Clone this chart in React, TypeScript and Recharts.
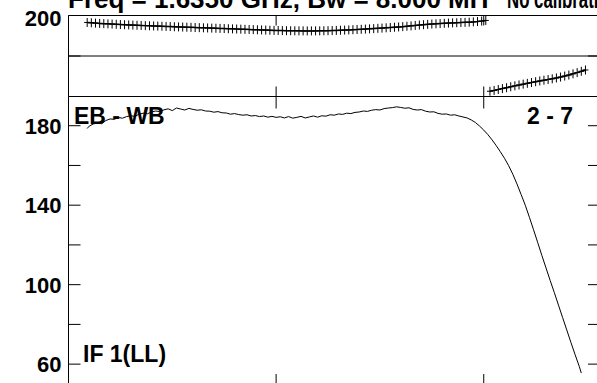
import React from 'react';
import { LineChart, Line, XAxis, YAxis, ReferenceLine } from 'recharts';

// ---------- text ----------
const titleLeft = 'Freq = 1.6350 GHz, Bw = 8.000 MH';
const titleRight = 'No calibration';
const baselineLabel = 'EB - WB';
const pairLabel = '2 - 7';
const polLabel = 'IF 1(LL)';

// ---------- axes ----------
const channelDomain = [0, 256];
const channelTicks = [100, 200];
const phaseDomain = [-200, 200];
const phaseTicks = [-200, 0, 200];
const phaseLabelled = [-200, 200];
const ampDomain = [50, 194.7];
const ampTicks = [60, 80, 100, 120, 140, 160, 180];
const ampLabelled = [60, 100, 140, 180];

// ---------- phase (deg), every 2nd channel ----------
const phaseUpperStart = 9;
const phaseUpper = [
  165.5, 164, 162.5, 161, 159.8, 158.7, 157.6, 156.5, 155.4, 154.4,
  153.5, 152.6, 151.7, 150.8, 150, 149.2, 148.4, 147.6, 146.8, 146,
  145.3, 144.5, 143.7, 143, 142.2, 141.5, 140.7, 140, 139.2, 138.5,
  137.7, 137, 136.2, 135.5, 134.7, 134, 133.2, 132.5, 131.7, 131,
  130.2, 129.5, 128.7, 128, 127.2, 126.5, 126, 125.5, 125, 124.7,
  124.4, 124.2, 124, 123.9, 123.9, 124, 124.2, 124.6, 125.1, 125.7,
  126.4, 127.2, 128, 128.9, 129.8, 130.8, 131.8, 132.9, 134, 135.2,
  136.5, 137.8, 139.2, 140.6, 142, 143.5, 145, 147, 148.8, 150.8,
  152.8, 154.6, 156.2, 157.7, 159, 160.2, 161.4, 162.5, 163.5, 164.4,
  165.3, 166.2, 167.2, 168.5, 170.2, 172.5, 175.5,
];
const phaseLowerStart = 203;
const phaseLower = [
  -174, -170, -165.5, -161, -156.5, -152, -147.5, -143, -139, -135,
  -131, -127, -123, -119.5, -116, -112.5, -108.5, -104, -99, -94,
  -88, -82, -75.5, -69,
];

// ---------- amplitude ----------
const ampChannels = [
  9, 10, 12, 14, 16, 18, 20, 22, 24, 26, 28, 30, 32, 34, 36, 38, 40, 42, 44, 46,
  48, 50, 52, 54, 56, 58, 60, 62, 64, 66, 68, 70, 72, 74, 76, 78, 80, 82, 84, 86,
  88, 90, 92, 94, 96, 98, 100, 102, 104, 106, 108, 110, 112, 114, 116, 118, 120, 122, 124, 126,
  128, 130, 132, 134, 136, 138, 140, 142, 144, 146, 148, 150, 152, 154, 156, 158, 160, 162, 164, 166,
  168, 170, 172, 174, 176, 178, 180, 182, 184, 186, 188, 190, 192, 194, 196, 198, 200, 202, 204, 206,
  208, 210, 212, 214, 216, 218, 220, 222, 224, 226, 228, 230, 232, 234, 236, 238, 240, 242, 244, 246,
  247,
];
const ampValues = [
  178.6, 179.8, 180.9, 181.3, 181.0, 182.6, 183.4, 183.2, 184.1, 183.8, 184.6, 185.0, 184.7, 185.8, 186.3, 186.0, 186.9, 187.4, 187.1, 188.0,
  188.5, 187.6, 188.9, 188.4, 187.9, 188.7, 188.2, 187.8, 188.0, 187.4, 187.3, 186.8, 187.1, 186.5, 186.4, 185.8, 186.1, 185.6, 185.3, 185.5,
  184.9, 185.1, 184.6, 184.9, 184.3, 184.7, 184.2, 184.5, 183.9, 184.6, 183.8, 184.2, 184.7, 183.9, 184.4, 184.9, 184.3, 185.0, 184.8, 185.5,
  185.3, 185.9, 185.7, 186.3, 186.1, 186.7, 186.9, 187.4, 187.2, 187.8, 188.1, 187.9, 188.6, 188.9, 189.1, 189.5, 189.2, 188.8, 189.0, 188.2,
  187.9, 188.1, 187.3, 186.9, 187.0, 186.2, 185.8, 185.9, 185.3, 185.5, 184.9, 184.4, 183.9, 182.9, 181.6, 179.8, 177.8, 175.5, 172.9, 170.0,
  166.9, 163.6, 159.9, 155.6, 150.7, 145.4, 140.0, 133.9, 127.6, 121.2, 114.7, 108.4, 102.1, 96.0, 89.7, 83.4, 77.2, 70.9, 64.8, 58.9,
  55.5,
];

const upperData = phaseUpper.map((v, i) => ({ ch: phaseUpperStart + 2 * i, phase: v }));
const lowerData = phaseLower.map((v, i) => ({ ch: phaseLowerStart + 2 * i, phase: v }));
const ampData = ampChannels.map((c, i) => ({ ch: c, amp: ampValues[i] }));

const FONT = '"Liberation Sans", Arial, Helvetica, sans-serif';
const INK = '#000';
const TICK_MARGIN = 7;
const TICK_LEN = 12;

const makeLeftTick = (labelled: number[], dy: number) => (props: any) => {
  const { x, y, payload } = props;
  const v = payload.value;
  const axisX = x + TICK_MARGIN;
  return (
    <g>
      <line x1={axisX} x2={axisX + TICK_LEN} y1={y} y2={y} stroke={INK} strokeWidth={1} />
      {labelled.includes(v) ? (
        <text x={x} y={y + dy} textAnchor="end" fontFamily={FONT} fontWeight="bold" fontSize={22} fill={INK}>
          {String(v)}
        </text>
      ) : null}
    </g>
  );
};

const plusDot = (props: any) => {
  const { cx, cy, index } = props;
  if (cx == null || cy == null) return <g key={`pd${index}`} />;
  return (
    <g key={`pd${index}`}>
      <line x1={cx} x2={cx} y1={cy - 4.5} y2={cy + 4.5} stroke={INK} strokeWidth={1} />
      <line x1={cx - 3} x2={cx + 3} y1={cy} y2={cy} stroke={INK} strokeWidth={1} />
    </g>
  );
};

const blank = () => '';

export default function App() {
  return (
    <div style={{ position: 'fixed', left: 0, top: 0, width: 597, height: 383, overflow: 'hidden', background: '#fff' }}>
      {/* phase panel */}
      <div style={{ position: 'absolute', left: 0, top: 0 }}>
        <LineChart width={620} height={100} margin={{ top: 15.5, right: 20, bottom: 3.5, left: 0.5 }}>
          <XAxis
            xAxisId="b"
            dataKey="ch"
            type="number"
            domain={channelDomain}
            ticks={channelTicks}
            orientation="bottom"
            mirror
            tickSize={10}
            tickFormatter={blank}
            axisLine={{ stroke: INK }}
            tickLine={{ stroke: INK }}
            allowDataOverflow
          />
          <XAxis
            xAxisId="t"
            dataKey="ch"
            type="number"
            domain={channelDomain}
            ticks={channelTicks}
            orientation="top"
            mirror
            tickSize={10}
            tickFormatter={blank}
            axisLine={{ stroke: INK }}
            tickLine={{ stroke: INK }}
            allowDataOverflow
          />
          <YAxis
            yAxisId="l"
            type="number"
            domain={phaseDomain}
            ticks={phaseTicks}
            width={68}
            tickLine={false}
            tickSize={0}
            tickMargin={TICK_MARGIN}
            axisLine={{ stroke: INK }}
            tick={makeLeftTick(phaseLabelled, 10.5)}
            allowDataOverflow
          />
          <YAxis
            yAxisId="r"
            type="number"
            orientation="right"
            mirror
            domain={phaseDomain}
            ticks={phaseTicks}
            tickSize={12}
            tickFormatter={blank}
            axisLine={{ stroke: INK }}
            tickLine={{ stroke: INK }}
            allowDataOverflow
          />
          <ReferenceLine xAxisId="b" yAxisId="l" y={0} stroke={INK} strokeWidth={1} />
          <Line
            xAxisId="b"
            yAxisId="l"
            data={upperData}
            dataKey="phase"
            stroke={INK}
            strokeWidth={1.5}
            dot={plusDot}
            isAnimationActive={false}
          />
          <Line
            xAxisId="b"
            yAxisId="l"
            data={lowerData}
            dataKey="phase"
            stroke={INK}
            strokeWidth={1.5}
            dot={plusDot}
            isAnimationActive={false}
          />
        </LineChart>
      </div>

      {/* amplitude panel */}
      <div style={{ position: 'absolute', left: 0, top: 80 }}>
        <LineChart width={620} height={320} margin={{ top: 16.5, right: 20, bottom: 16, left: 0.5 }}>
          <XAxis
            xAxisId="b"
            dataKey="ch"
            type="number"
            domain={channelDomain}
            ticks={channelTicks}
            orientation="bottom"
            mirror
            tickSize={10}
            tickFormatter={blank}
            axisLine={{ stroke: INK }}
            tickLine={{ stroke: INK }}
            allowDataOverflow
          />
          <XAxis
            xAxisId="t"
            dataKey="ch"
            type="number"
            domain={channelDomain}
            ticks={channelTicks}
            orientation="top"
            mirror
            tickSize={12}
            tickFormatter={blank}
            axisLine={{ stroke: INK }}
            tickLine={{ stroke: INK }}
            allowDataOverflow
          />
          <YAxis
            yAxisId="l"
            type="number"
            domain={ampDomain}
            ticks={ampTicks}
            width={68}
            tickLine={false}
            tickSize={0}
            tickMargin={TICK_MARGIN}
            axisLine={{ stroke: INK }}
            tick={makeLeftTick(ampLabelled, 8)}
            allowDataOverflow
          />
          <YAxis
            yAxisId="r"
            type="number"
            orientation="right"
            mirror
            domain={ampDomain}
            ticks={ampTicks}
            tickSize={12}
            tickFormatter={blank}
            axisLine={{ stroke: INK }}
            tickLine={{ stroke: INK }}
            allowDataOverflow
          />
          <Line
            xAxisId="b"
            yAxisId="l"
            data={ampData}
            dataKey="amp"
            stroke={INK}
            strokeWidth={1}
            dot={false}
            isAnimationActive={false}
          />
        </LineChart>
      </div>

      {/* annotations */}
      <svg width={597} height={383} style={{ position: 'absolute', left: 0, top: 0, pointerEvents: 'none' }}>
        <g fontFamily={FONT} fontWeight="bold" fontSize={26} fill={INK}>
          <text x={68} y={8}>{titleLeft}</text>
          <text x={507} y={8} textLength={112} lengthAdjust="spacingAndGlyphs">{titleRight}</text>
          <text x={74} y={124} fontSize={23}>{baselineLabel}</text>
          <text x={527} y={124} fontSize={23}>{pairLabel}</text>
          <text x={83} y={362} fontSize={23}>{polLabel}</text>
        </g>
      </svg>
    </div>
  );
}
